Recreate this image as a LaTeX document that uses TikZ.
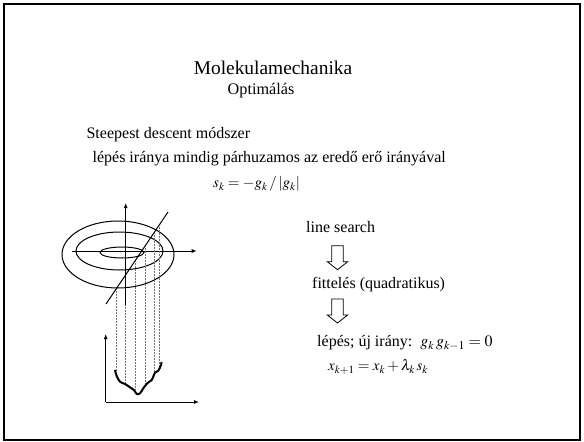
\documentclass[tikz,border=0pt]{standalone}
\usepackage{mathptmx}
\usepackage{fontspec}
\setmainfont{Liberation Serif}
\usepackage{tikz}
\usetikzlibrary{arrows.meta}
\usetikzlibrary{positioning}

\begin{document}
\begin{tikzpicture}[
            x=1pt,
            y=-1pt,
            txt/.style={
                anchor=west,
                inner sep=0pt,
                font=\fontsize{16}{19}\selectfont
            },
            ttl/.style={
                inner sep=0pt,
                font=\fontsize{19.4}{23}\selectfont
            },
            ax/.style={
                draw=black,
                line width=0.9pt,
                -{Latex[length=5pt,width=4pt]}
            },
            cont/.style={
                draw=black,
                line width=1pt
            },
            guide/.style={
                draw=black!55,
                line width=0.5pt,
                densely dotted
            },
            hollowdown/.pic={
                \draw[line width=0.8pt, fill=white]
                    (-5.8,0) -- (5.8,0) -- (5.8,16) -- (10.2,16) -- (0,24)
                    -- (-10.2,16) -- (-5.8,16) -- cycle;
            }
        ]

            % Frame
            \useasboundingbox (0,0) rectangle (584,442);
            \draw[line width=1.6pt] (4,4) rectangle (580,440);

            % Headers
            \node[ttl] (title) at (273,68) {Molekulamechanika};
            \node[ttl, font=\fontsize{16.2}{19}\selectfont] (sub) at (261,91) {Optimálás};

            % Method text
            \node[txt] (meth) at (86.4,135) {Steepest descent módszer};
            \node[txt] (dir) at (92.4,159) {lépés iránya mindig párhuzamos az eredő erő irányával};
            \node[txt, font=\fontsize{15}{18}\selectfont] (sk) at (213,184) {$s_k=-g_k\,/\left|g_k\right|$};

            % Contours and axes
            \draw[cont] (118,254.5) ellipse [x radius=56, y radius=33.5];
            \draw[cont] (119.5,251) ellipse [x radius=43.5, y radius=19];
            \draw[cont] (122,252.5) ellipse [x radius=22, y radius=5.5];
            \coordinate (hx0) at (71.7,251);
            \coordinate (hx1) at (196.7,251);
            \coordinate (vy0) at (125.7,305);
            \coordinate (vy1) at (125.7,203);
            \draw[ax] (hx0) -- (hx1);
            \draw[ax] (vy0) -- (vy1);
            \coordinate (d0) at (106,304);
            \coordinate (d1) at (168,212);
            \draw[cont] (d0) -- (d1);

            % Projections onto the line profile
            \foreach \x/\ya/\yb in {116/289/371, 125.7/305/383, 135/261/389, 145/246/385, 154/233/372, 159/225/368}
                \draw[guide] (\x,\ya) -- (\x,\yb);

            % Energy profile
            \coordinate (o) at (105.7,402);
            \coordinate (ey) at (105.7,334);
            \coordinate (ex) at (199,402);
            \draw[ax] (o) -- (ey);
            \draw[ax] (o) -- (ex);
            \draw[line width=2pt, line join=round] plot[smooth, tension=0.6] coordinates {
                (115,370) (116.7,376) (120,381.7) (125,384) (130,387.3) (134,390)
                (136.7,394) (140,393.3) (143.3,388.3) (147.3,383.3) (151.7,380)
                (155,372.7) (158.3,370.7) (161,365) (161.5,362)};

            % Procedure steps
            \node[txt] (ls) at (306,227) {line search};
            \pic at (337.5,245.7) {hollowdown};
            \node[txt] (fit) at (312,285) {fittelés (quadratikus)};
            \pic at (337.5,299) {hollowdown};
            \node[txt] (step) at (317,343) {lépés; új irány:\ \ $g_k\,g_{k-1}=0$};
            \node[txt, font=\fontsize{15}{18}\selectfont] (upd) at (328,367) {$x_{k+1}=x_k+\lambda_k\,s_k$};

        \end{tikzpicture}
\end{document}
